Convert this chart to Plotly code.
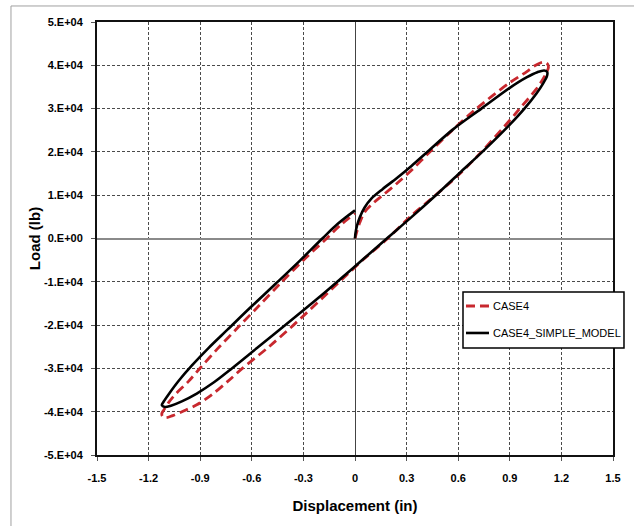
import plotly.graph_objects as go

# ---- data (displacement in inches, load in lb) ----
case4_x = [0, 0.01, 0.029, 0.058, 0.107, 0.165, 0.24, 0.33, 0.43, 0.56, 0.706, 0.9, 0.997, 1.045,
           1.09, 1.115, 1.125, 1.112, 1.085, 1.05, 0.958, 0.9, 0.735, 0.6, 0.45, 0.32, 0.19,
           0.05, -0.09, -0.358, -0.5, -0.655, -0.74, -0.83, -0.92, -1.0, -1.06, -1.10, -1.12,
           -1.123, -1.113, -1.084, -1.045, -0.968, -0.9, -0.8, -0.677, -0.56, -0.435, -0.3,
           -0.165, -0.087, 0]
case4_y = [0, 1500, 3800, 6200, 8200, 10100, 12600, 15800, 19800, 24800, 30000, 36000, 38500, 39900,
           40700, 40500, 39600, 38200, 36300, 34300, 30000, 27300, 20000, 14600, 9400, 5000, 0,
           -4800, -10000, -20000, -25000, -30000, -33000, -36000, -38400, -39900, -40900, -41400, -41000,
           -40400, -39700, -37900, -36000, -33000, -29900, -25500, -20400, -15600, -10400, -5000,
           0, 3000, 5800]

simple_x = [0, 0.003, 0.012, 0.028, 0.055, 0.095, 0.16, 0.242, 0.33, 0.415, 0.57, 0.735,
            0.9, 0.997, 1.06, 1.10, 1.118, 1.115, 1.095, 1.055, 0.985, 0.9, 0.74, 0.61, 0.47,
            0.33, 0.185, 0.05, -0.08, -0.20, -0.405, -0.57, -0.716, -0.82, -0.92, -1.007, -1.07,
            -1.105, -1.123, -1.113, -1.084, -1.026, -0.948, -0.852, -0.74, -0.61, -0.46, -0.32,
            -0.19, -0.1, 0]
simple_y = [0, 1300, 3000, 4900, 7100, 9200, 11400, 13900, 16800, 19800, 25200, 30000,
            34800, 37200, 38400, 38800, 38400, 37400, 35900, 33500, 30000, 26300, 20000, 15200, 10000,
            5000, 0, -4700, -9200, -13300, -20000, -25300, -30000, -33200, -35800, -37600, -38600,
            -38900, -38500, -37700, -36000, -32900, -29300, -25300, -21000, -16000, -10400, -5100,
            0, 3400, 6500]

x_ticks = [-1.5, -1.2, -0.9, -0.6, -0.3, 0, 0.3, 0.6, 0.9, 1.2, 1.5]
x_tick_text = ["-1.5", "-1.2", "-0.9", "-0.6", "-0.3", "0", "0.3", "0.6", "0.9", "1.2", "1.5"]
y_ticks = [50000, 40000, 30000, 20000, 10000, 0, -10000, -20000, -30000, -40000, -50000]
y_tick_text = ["5.E+04", "4.E+04", "3.E+04", "2.E+04", "1.E+04", "0.E+00",
               "-1.E+04", "-2.E+04", "-3.E+04", "-4.E+04", "-5.E+04"]
series_names = ["CASE4", "CASE4_SIMPLE_MODEL"]
series_colors = ["#C8282E", "#000000"]

FONT = "Liberation Sans, Arial, sans-serif"

fig = go.Figure()
fig.add_trace(go.Scatter(
    x=case4_x, y=case4_y, mode="lines", name=series_names[0],
    line=dict(color=series_colors[0], width=2.8, dash="9px,5px", shape="spline", smoothing=0.9),
))
fig.add_trace(go.Scatter(
    x=simple_x, y=simple_y, mode="lines", name=series_names[1],
    line=dict(color=series_colors[1], width=2.6, shape="spline", smoothing=0.9),
))

axis_common = dict(
    showgrid=True, gridcolor="#4a4a4a", gridwidth=1, griddash="3px,2px",
    showline=True, linecolor="#111111", linewidth=2, mirror=True,
    ticks="outside", ticklen=4, tickwidth=1, tickcolor="#555555",
    tickfont=dict(family=FONT, size=11, color="#000000", weight="bold"),
    zeroline=True,
)

# legend drawn as a framed box (paper coordinates)
LX0, LX1, LY0, LY1 = 0.7093, 1.0213, 0.2471, 0.3764
SX0, SX1, TX = 0.7151, 0.7597, 0.7636
ROW_Y = [0.3441, 0.2818]

shapes = [
    dict(type="rect", xref="paper", yref="paper", x0=-0.1667, x1=1.2, y0=-0.4, y1=1.037,
         line=dict(color="#a0a0a0", width=1), fillcolor="rgba(0,0,0,0)", layer="below"),
    dict(type="rect", xref="paper", yref="paper", x0=LX0, x1=LX1, y0=LY0, y1=LY1,
         line=dict(color="#000000", width=1.5), fillcolor="white", layer="above"),
    dict(type="line", xref="paper", yref="paper", x0=SX0, x1=SX1, y0=ROW_Y[0], y1=ROW_Y[0],
         line=dict(color=series_colors[0], width=2.8, dash="9px,5px"), layer="above"),
    dict(type="line", xref="paper", yref="paper", x0=SX0, x1=SX1, y0=ROW_Y[1], y1=ROW_Y[1],
         line=dict(color=series_colors[1], width=2.6), layer="above"),
]
annotations = [
    dict(xref="paper", yref="paper", x=TX, y=ROW_Y[i], text=series_names[i], showarrow=False,
         xanchor="left", yanchor="middle", font=dict(family=FONT, size=11, color="#000000"))
    for i in range(2)
]

fig.update_layout(
    width=634, height=526,
    margin=dict(l=97, r=21, t=22, b=71, autoexpand=False),
    paper_bgcolor="white", plot_bgcolor="white",
    font=dict(family=FONT, color="#000000"),
    xaxis=dict(
        range=[-1.5, 1.5], tickmode="array", tickvals=x_ticks, ticktext=x_tick_text,
        zerolinecolor="#444444", zerolinewidth=1, ticklabelstandoff=8,
        title=dict(text="Displacement (in)", font=dict(family=FONT, size=15, weight="bold"), standoff=17),
        **axis_common,
    ),
    yaxis=dict(
        range=[-50000, 50000], tickmode="array", tickvals=y_ticks, ticktext=y_tick_text,
        zerolinecolor="#8a8a8a", zerolinewidth=1.5, ticklabelstandoff=6,
        title=dict(text="Load (lb)", font=dict(family=FONT, size=15, weight="bold"), standoff=0),
        **axis_common,
    ),
    showlegend=False,
    shapes=shapes,
    annotations=annotations,
)

fig.write_html("out.html", config={"displayModeBar": False},
               post_script="document.body.style.margin='0';")
